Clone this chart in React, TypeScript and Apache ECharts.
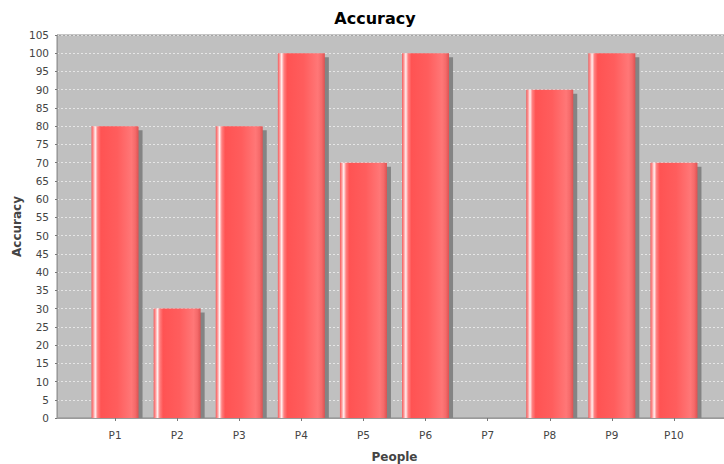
import React, { useEffect, useRef } from "react";
import * as echarts from "echarts";

const categories = ["P1", "P2", "P3", "P4", "P5", "P6", "P7", "P8", "P9", "P10"];
const accuracy = [80, 30, 80, 100, 70, 100, 0, 90, 100, 70];
const yMin = 0;
const yMax = 105;
const yStep = 5;

const FONT = "DejaVu Sans";
const BAR_W = 47;
const SHADOW_OFF = 4;

export default function App() {
  const ref = useRef<HTMLDivElement>(null);
  useEffect(() => {
    document.body.style.margin = "0";
    const chart = echarts.init(ref.current!, null, { renderer: "svg" });
    const barGradient = new echarts.graphic.LinearGradient(0, 0, 1, 0, [
      { offset: 0, color: "#f25a5a" },
      { offset: 0.04, color: "#ff9a9a" },
      { offset: 0.08, color: "#fff0f0" },
      { offset: 0.13, color: "#ff8080" },
      { offset: 0.2, color: "#ff5353" },
      { offset: 0.55, color: "#ff5d5d" },
      { offset: 0.85, color: "#ff7777" },
      { offset: 0.93, color: "#f56a6a" },
      { offset: 1, color: "#dd5252" },
    ]);
    chart.setOption({
      animation: false,
      backgroundColor: "#ffffff",
      title: {
        text: "Accuracy",
        left: 370,
        top: 5,
        textAlign: "center",
        textStyle: { fontFamily: FONT, fontSize: 16, fontWeight: "bold", color: "#000" },
      },
      grid: [
        {
          left: 57,
          right: -8,
          top: 35,
          bottom: 46,
          show: true,
          backgroundColor: "#c0c0c0",
          borderColor: "#8a8a8a",
          borderWidth: 1,
          outerBoundsMode: "none",
          containLabel: false,
        },
        {
          left: 84,
          right: 19,
          top: 35,
          bottom: 46,
          outerBoundsMode: "none",
          containLabel: false,
        },
      ],
      xAxis: [
        {
          type: "value",
          gridIndex: 0,
          min: 0,
          max: 1,
          offset: 3,
          axisLine: { show: true, lineStyle: { color: "#9a9a9a", width: 1 } },
          axisTick: { show: false },
          axisLabel: { show: false },
          splitLine: { show: false },
          name: "People",
          nameLocation: "middle",
          nameGap: 30,
          nameMoveOverlap: false,
          nameTextStyle: { fontFamily: FONT, fontSize: 12, fontWeight: "bold", color: "#444" },
        },
        {
          type: "category",
          gridIndex: 1,
          data: categories,
          offset: 3,
          axisLine: { show: false },
          axisTick: { show: true, alignWithLabel: true, length: 3, lineStyle: { color: "#777" } },
          axisLabel: { fontFamily: FONT, fontSize: 10.5, color: "#444", margin: 8 },
          splitLine: { show: false },
        },
      ],
      yAxis: [
        {
          type: "value",
          gridIndex: 0,
          min: yMin,
          max: yMax,
          interval: yStep,
          offset: 4,
          axisLine: { show: true, lineStyle: { color: "#9a9a9a" } },
          axisTick: { show: true, length: 2, lineStyle: { color: "#777" } },
          axisLabel: { fontFamily: FONT, fontSize: 10.5, color: "#444", margin: 4 },
          splitLine: { show: true, lineStyle: { color: "#ffffff", type: [2, 2], width: 0.6 } },
          name: "Accuracy",
          nameLocation: "middle",
          nameGap: 30,
          nameRotate: 90,
          nameMoveOverlap: false,
          nameTextStyle: { fontFamily: FONT, fontSize: 12, fontWeight: "bold", color: "#444" },
        },
        {
          type: "value",
          gridIndex: 1,
          min: yMin,
          max: yMax,
          interval: yStep,
          show: false,
          splitLine: { show: false },
        },
      ],
      series: [
        {
          type: "custom",
          xAxisIndex: 1,
          yAxisIndex: 1,
          data: accuracy.map((v, i) => [i, v]),
          z: 1,
          renderItem: (params: any, api: any) => {
            const v = api.value(1);
            if (!v) return null;
            const top = api.coord([api.value(0), v]);
            const base = api.coord([api.value(0), 0]);
            const h = base[1] - top[1] - SHADOW_OFF;
            if (h <= 0) return null;
            return {
              type: "rect",
              shape: {
                x: top[0] - BAR_W / 2 + SHADOW_OFF,
                y: top[1] + SHADOW_OFF,
                width: BAR_W,
                height: h,
              },
              style: { fill: "#848484" },
            };
          },
        },
        {
          type: "bar",
          xAxisIndex: 1,
          yAxisIndex: 1,
          data: accuracy,
          barWidth: BAR_W,
          z: 2,
          itemStyle: { color: barGradient },
        },
      ],
    });
    return () => chart.dispose();
  }, []);
  return (
    <div
      ref={ref}
      style={{ position: "absolute", left: 0, top: 0, width: 724, height: 464 }}
    />
  );
}
